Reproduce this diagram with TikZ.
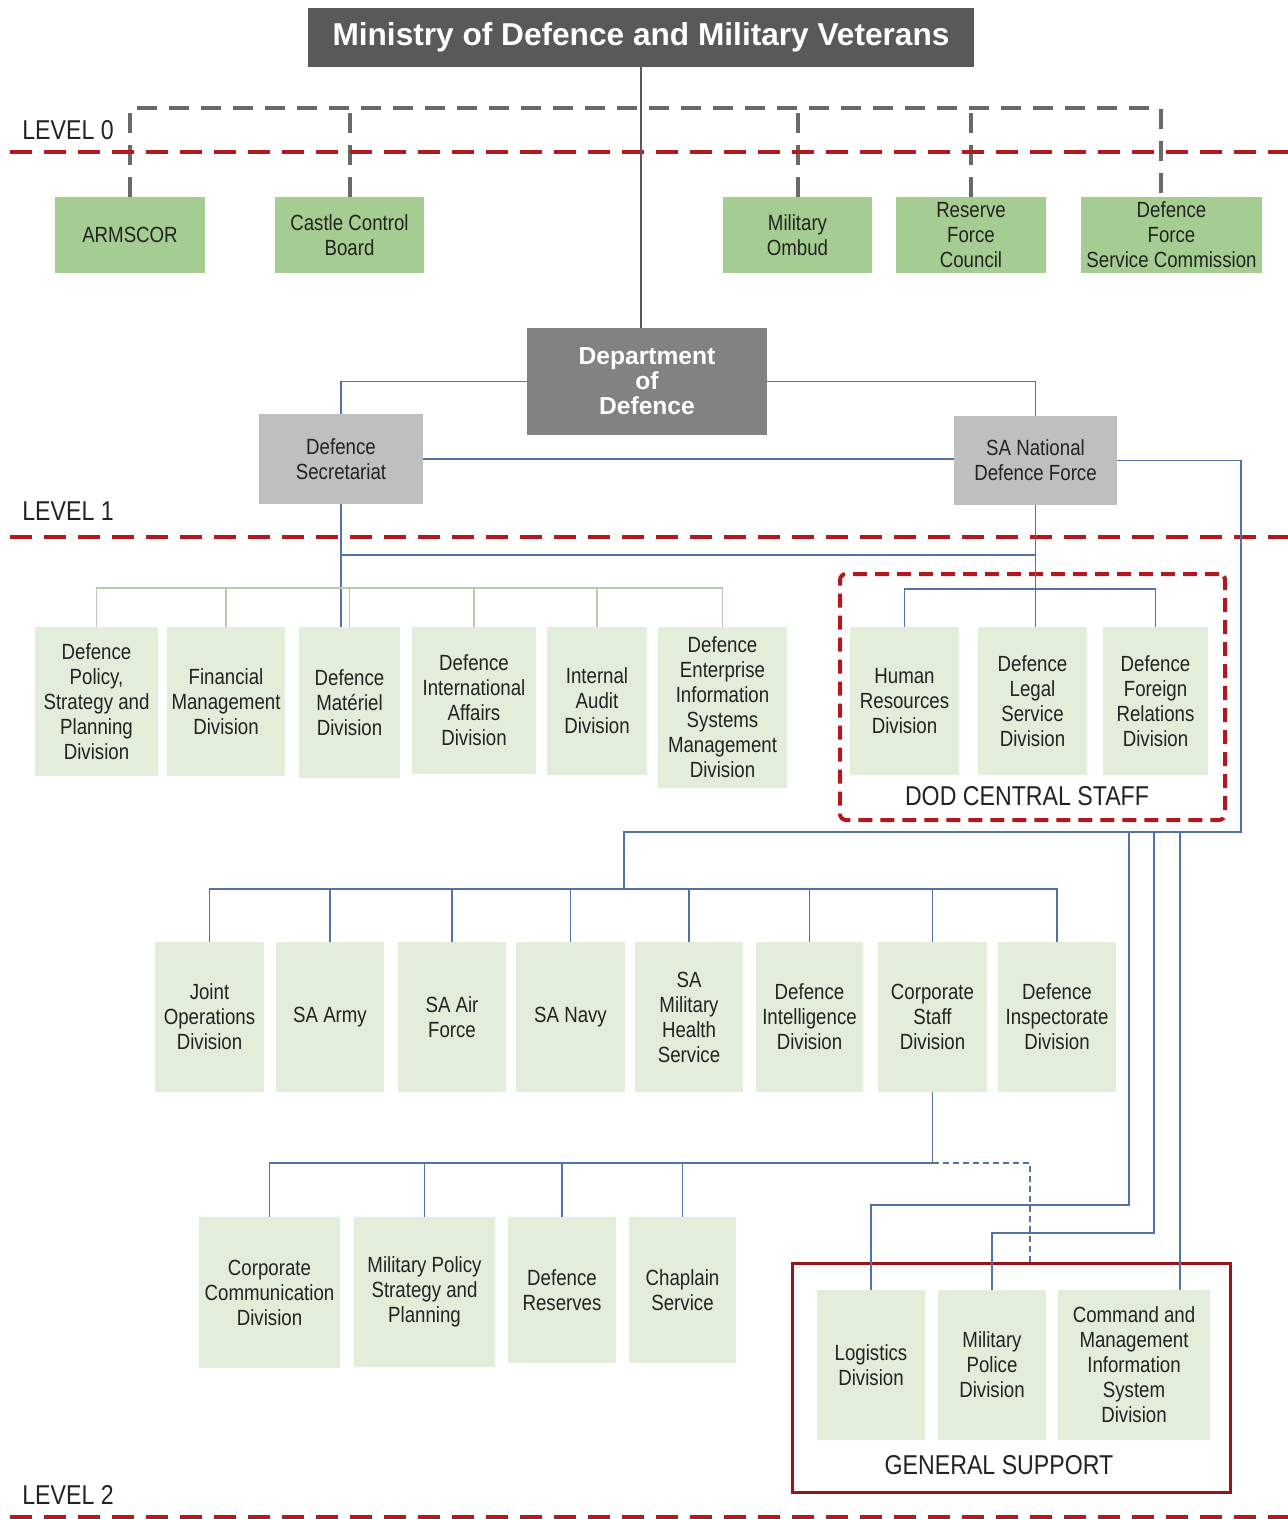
\documentclass[tikz,border=0pt]{standalone}
\usepackage{fontspec}
\setmainfont{Liberation Sans}[FakeStretch=0.85]
\newfontfamily\widefont{Liberation Sans}
\definecolor{mingray}{RGB}{89,89,89}
\definecolor{dodgray}{RGB}{130,130,130}
\definecolor{secgray}{RGB}{191,191,191}
\definecolor{boardgreen}{RGB}{165,205,145}
\definecolor{divgreen}{RGB}{226,237,218}
\definecolor{linkblue}{RGB}{84,114,163}
\definecolor{linkgreen}{RGB}{185,203,172}
\definecolor{levelred}{RGB}{178,24,30}
\definecolor{dashgray}{RGB}{105,105,105}
\definecolor{txtdark}{RGB}{35,35,35}
\usetikzlibrary{calc}

\begin{document}
\begin{tikzpicture}[
  x=0.2mm, y=-0.2mm,
  ubox/.style 2 args={minimum width=#1mm, minimum height=#2mm, inner sep=0pt, align=center, text=txtdark, font=\fontsize{12.5}{14.2}\selectfont},
  boardbox/.style={fill=boardgreen},
  divbox/.style={fill=divgreen},
  hqbox/.style={fill=secgray},
  bluelink/.style={draw=linkblue, line width=0.9pt},
  greenlink/.style={draw=linkgreen, line width=0.9pt},
  graydash/.style={draw=dashgray, line width=0.8mm, dash pattern=on 4mm off 2.4mm},
  levelline/.style={draw=levelred, line width=0.8mm, dash pattern=on 4.4mm off 2.4mm},
  levellbl/.style={anchor=west, inner sep=0pt, text=txtdark, font=\fontsize{15.5}{16}\selectfont},
  grouplbl/.style={inner sep=0pt, text=txtdark, font=\fontsize{15.5}{16}\selectfont}
]
  \useasboundingbox (0,0) rectangle (1288,1519);

  % top
  \node[fill=mingray, minimum width=133.2mm, minimum height=11.8mm, text=white, font=\widefont\bfseries\fontsize{18}{20}\selectfont] (Min) at (641,37.5) {Ministry of Defence and Military Veterans};

  % level 0 boards
  \node[boardbox, ubox={30}{15.2}] (ARMSCOR) at (130,235) {ARMSCOR};
  \node[boardbox, ubox={29.8}{15.2}] (Castle) at (349.5,235) {Castle Control\\Board};
  \node[boardbox, ubox={29.8}{15.2}] (Ombud) at (797.5,235) {Military\\Ombud};
  \node[boardbox, ubox={30}{15.2}] (RFC) at (971,235) {Reserve\\Force\\Council};
  \node[boardbox, ubox={36.2}{15.2}] (DFSC) at (1171.5,235) {Defence\\Force\\Service Commission};

  % department
  \node[fill=dodgray, minimum width=48mm, minimum height=21.4mm, align=center, text=white, font=\widefont\bfseries\fontsize{14}{14.2}\selectfont] (DoD) at (647,381.5) {Department\\of\\Defence};
  \node[hqbox, ubox={32.8}{18}] (DefSec) at (341,459) {Defence\\Secretariat};
  \node[hqbox, ubox={32.6}{17.8}] (SANDF) at (1035.5,460.5) {SA National\\Defence Force};

  % level 1 divisions
  \node[divbox, ubox={24.6}{29.8}] (DPSP) at (96.5,701.5) {Defence\\Policy,\\Strategy and\\Planning\\Division};
  \node[divbox, ubox={23.6}{29.8}] (FMD) at (226,701.5) {Financial\\Management\\Division};
  \node[divbox, ubox={20.2}{30.2}] (DMD) at (349.5,702.5) {Defence\\Matériel\\Division};
  \node[divbox, ubox={24.8}{29.4}] (DIAD) at (474,700.5) {Defence\\International\\Affairs\\Division};
  \node[divbox, ubox={20}{29.6}] (IAD) at (597,701) {Internal\\Audit\\Division};
  \node[divbox, ubox={25.8}{32.2}] (DEISMD) at (722.5,707.5) {Defence\\Enterprise\\Information\\Systems\\Management\\Division};

  \node[draw=levelred, line width=0.8mm, dash pattern=on 2.8mm off 1.6mm, rounded corners=1.2mm, minimum width=77mm, minimum height=49.2mm] (CStaff) at (1032.5,697) {};
  \node[divbox, ubox={21.8}{29.6}] (HRD) at (904.5,701) {Human\\Resources\\Division};
  \node[divbox, ubox={21.8}{29.6}] (DLSD) at (1032.5,701) {Defence\\Legal\\Service\\Division};
  \node[divbox, ubox={21}{29.6}] (DFRD) at (1155.5,701) {Defence\\Foreign\\Relations\\Division};
  \node[grouplbl] (cslbl) at (1027,796) {DOD CENTRAL STAFF};

  % level 2 services
  \node[divbox, ubox={21.8}{30}] (JOD) at (209.5,1017) {Joint\\Operations\\Division};
  \node[divbox, ubox={21.6}{30}] (Army) at (330,1017) {SA Army};
  \node[divbox, ubox={21.6}{30}] (Air) at (452,1017) {SA Air\\Force};
  \node[divbox, ubox={21.8}{30}] (Navy) at (570.5,1017) {SA Navy};
  \node[divbox, ubox={21.6}{30}] (SAMHS) at (689,1017) {SA\\Military\\Health\\Service};
  \node[divbox, ubox={21.4}{30}] (DID) at (809.5,1017) {Defence\\Intelligence\\Division};
  \node[divbox, ubox={21.8}{30}] (CSD) at (932.5,1017) {Corporate\\Staff\\Division};
  \node[divbox, ubox={23.6}{30}] (DInspD) at (1057,1017) {Defence\\Inspectorate\\Division};

  \node[divbox, ubox={28.2}{30.2}] (CCD) at (269.5,1292.5) {Corporate\\Communication\\Division};
  \node[divbox, ubox={28.2}{30}] (MPSP) at (424.5,1292) {Military Policy\\Strategy and\\Planning};
  \node[divbox, ubox={21.6}{29.2}] (DR) at (562,1290) {Defence\\Reserves};
  \node[divbox, ubox={21.4}{29.2}] (CS) at (682.5,1290) {Chaplain\\Service};

  \node[draw=levelred!85!black, line width=0.6mm, minimum width=87.6mm, minimum height=45.8mm] (GS) at (1011,1377.5) {};
  \node[divbox, ubox={21.6}{30}] (Log) at (871,1365) {Logistics\\Division};
  \node[divbox, ubox={21.6}{30}] (MPD) at (992,1365) {Military\\Police\\Division};
  \node[divbox, ubox={30.4}{30}] (CMISD) at (1134,1365) {Command and\\Management\\Information\\System\\Division};
  \node[grouplbl] (gslbl) at (999,1465) {GENERAL SUPPORT};

  % level markers
  \node[levellbl] (lv0) at (22,130) {LEVEL 0};
  \node[levellbl] (lv1) at (22,511) {LEVEL 1};
  \node[levellbl] (lv2) at (22,1495) {LEVEL 2};
  \draw[graydash] (ARMSCOR.north) |- (0,108 -| {$(DFSC.north)+(-11,0)$}) -- ($(DFSC.north)+(-11,0)$);
  \foreach \n in {Castle,Ombud,RFC}
    \draw[graydash] (\n.north) -- (\n.north |- 0,108);
  \draw[levelline] (10,152) -- (1288,152);
  \draw[levelline] (10,537) -- (1288,537);
  \draw[levelline] (10,1517) -- (1288,1517);

  % links
  \draw[draw=mingray, line width=0.6pt] (Min.south) -- (Min.south |- DoD.north);
  \draw[bluelink] (DoD.west) -| (DefSec.north);
  \draw[bluelink] (DoD.east) -| (SANDF.north);
  \draw[bluelink] (DefSec.east) -- (DefSec.east -| SANDF.west);
  \draw[bluelink] (DefSec.south) -- (DefSec.south |- DMD.north);
  \draw[bluelink] (DefSec.south |- 0,555) -- (SANDF.south |- 0,555);
  \draw[bluelink] (SANDF.south) -- (SANDF.south |- DLSD.north);
  \draw[greenlink] (DPSP.north) |- (DEISMD.north |- 0,588) -- (DEISMD.north);
  \foreach \n in {FMD,DMD,DIAD,IAD}
    \draw[greenlink] (\n.north) -- (\n.north |- 0,588);
  \draw[bluelink] (HRD.north) |- (DFRD.north |- 0,589) -- (DFRD.north);

  \coordinate (rturn) at (1241,832);
  \coordinate (l2drop) at (624,832);
  \coordinate (l2bus) at (624,889);
  \draw[bluelink] (SANDF.east) -| (rturn) -- (l2drop) -- (l2bus);
  \draw[bluelink] (JOD.north) |- (DInspD.north |- l2bus) -- (DInspD.north);
  \foreach \n in {Army,Air,Navy,SAMHS,DID,CSD}
    \draw[bluelink] (\n.north) -- (\n.north |- l2bus);

  \coordinate (l3bus) at (932.5,1163);
  \draw[bluelink] (CSD.south) -- (l3bus) -| (CCD.north);
  \foreach \n in {MPSP,DR,CS}
    \draw[bluelink] (\n.north) -- (\n.north |- l3bus);
  \coordinate (gsdrop) at (1030,1163);
  \draw[draw=linkblue, line width=0.6pt, dash pattern=on 1.2mm off 0.8mm] (l3bus) -- (gsdrop) -- (gsdrop |- GS.north);

  \coordinate (feed1) at (1129,832);
  \coordinate (feed2) at (1154,832);
  \coordinate (feed3) at (1180,832);
  \draw[bluelink] (feed1) -- (1129,1205) -| (Log.north);
  \draw[bluelink] (feed2) -- (1154,1233) -| (MPD.north);
  \draw[bluelink] (feed3) -- (feed3 |- CMISD.north);
\end{tikzpicture}
\end{document}
